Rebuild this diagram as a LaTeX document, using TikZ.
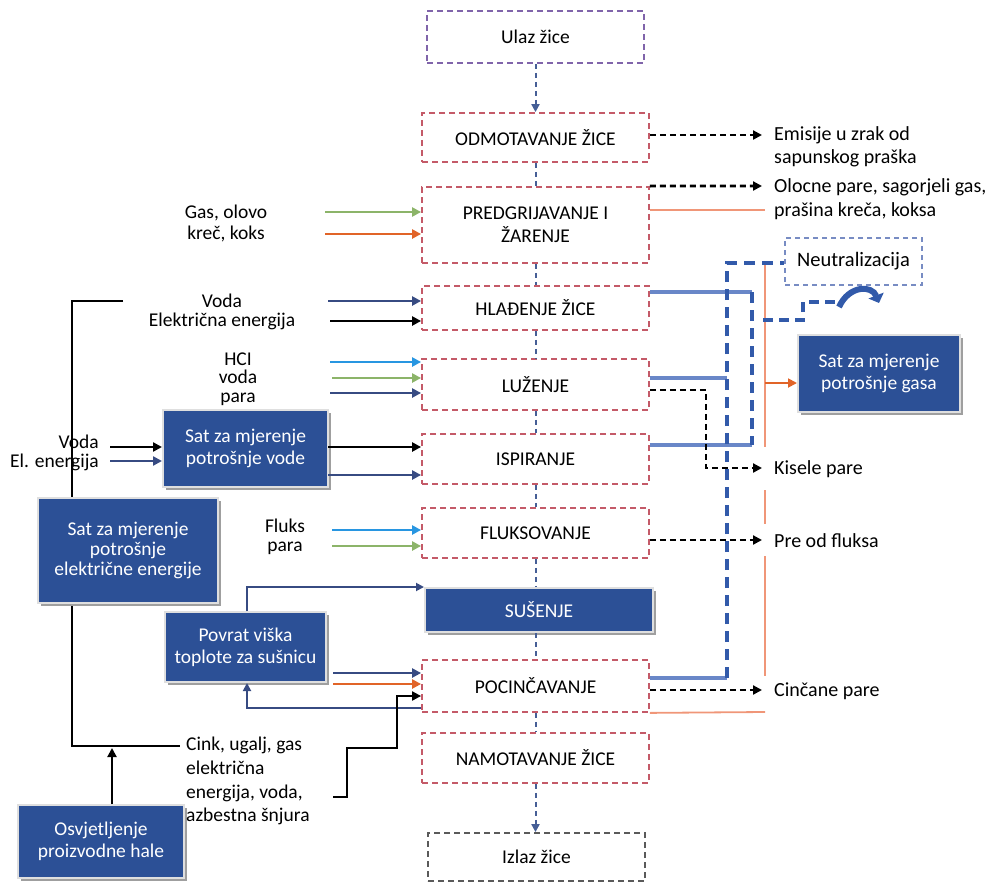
\documentclass[tikz,border=0pt]{standalone}
\usepackage{fontspec}
\setmainfont{Carlito}
\usetikzlibrary{arrows.meta,shadows,calc}
\definecolor{redd}{RGB}{196,90,104}
\definecolor{purp}{RGB}{128,100,170}
\definecolor{greyd}{RGB}{90,90,90}
\definecolor{connblue}{RGB}{70,95,150}
\definecolor{navy}{RGB}{55,75,130}
\definecolor{boxblue}{RGB}{44,80,150}
\definecolor{lblue}{RGB}{40,150,225}
\definecolor{greenc}{RGB}{140,180,105}
\definecolor{orangec}{RGB}{225,100,40}
\definecolor{salmon}{RGB}{240,150,120}
\definecolor{steelb}{RGB}{105,135,200}
\definecolor{dblue}{RGB}{50,90,170}
\definecolor{neutc}{RGB}{120,140,195}
\begin{document}
\begin{tikzpicture}[x=1pt,y=-1pt,
  font=\fontsize{19.5}{22}\selectfont,
  dbox/.style={draw=redd, dash pattern=on 6pt off 4pt, line width=1.8pt, minimum width=227pt, inner sep=0pt, align=center},
  fbox/.style={fill=boxblue, draw=gray!25, line width=2pt, text=white, align=center, inner sep=0pt,
     drop shadow={shadow xshift=2.5pt, shadow yshift=-3pt, fill=gray!75, opacity=1}},
  conn/.style={draw=connblue, dash pattern=on 5pt off 4pt, line width=2pt},
  connarr/.style={conn, -{Triangle[length=8pt,width=8pt]}},
  arr/.style={line width=2.6pt, -{Triangle[length=9pt,width=9pt]}},
  tarr/.style={line width=1.8pt, -{Triangle[length=8pt,width=8pt]}},
  darr/.style={draw=black, dash pattern=on 6pt off 4pt, line width=2.2pt, -{Triangle[length=9pt,width=9pt]}},
  sb/.style={draw=steelb, line width=4pt},
  db/.style={draw=dblue, line width=4pt, dash pattern=on 11pt off 7pt},
  sal/.style={draw=salmon, line width=1.8pt},
  lbl/.style={align=center, inner sep=0pt}
]
\useasboundingbox (0,0) rectangle (989,883);

% ---------- central column ----------
\node[dbox, draw=purp, minimum width=217pt, minimum height=52pt] (ulaz) at (535.5,37) {Ulaz žice};
\node[dbox, minimum height=49pt] (odm) at (535.5,137.5) {ODMOTAVANJE ŽICE};
\node[dbox, minimum height=76pt, font=\fontsize{19.5}{23}\selectfont] (pred) at (535.5,225) {PREDGRIJAVANJE I\\ŽARENJE};
\node[dbox, minimum height=44pt] (hlad) at (535.5,308) {HLAĐENJE ŽICE};
\node[dbox, minimum height=51pt] (luz) at (535.5,384.5) {LUŽENJE};
\node[dbox, minimum height=50pt] (isp) at (535.5,459) {ISPIRANJE};
\node[dbox, minimum height=50pt] (flu) at (535.5,533) {FLUKSOVANJE};
\node[fbox, minimum width=228pt, minimum height=44pt] (sus) at (539,610) {SUŠENJE};
\node[dbox, minimum height=52pt] (poc) at (535.5,686) {POCINČAVANJE};
\node[dbox, minimum height=50pt] (nam) at (535.5,758) {NAMOTAVANJE ŽICE};
\node[dbox, draw=greyd, minimum width=217pt, minimum height=48pt] (izl) at (536.5,857) {Izlaz žice};

\draw[connarr] (ulaz.south) -- (odm.north);
\draw[conn] (odm.south) -- (pred.north);
\draw[conn] (pred.south) -- (hlad.north);
\draw[conn] (hlad.south) -- (luz.north);
\draw[conn] (luz.south) -- (isp.north);
\draw[conn] (isp.south) -- (flu.north);
\draw[conn] (flu.south) -- (flu.south |- sus.north);
\draw[conn] (poc.north |- sus.south) -- (poc.north);
\draw[conn] (poc.south) -- (nam.north);
\draw[connarr] (nam.south) -- (nam.south |- izl.north);

% ---------- right side ----------
\node[draw=neutc, dash pattern=on 5pt off 4pt, line width=1.8pt, minimum width=137pt, minimum height=47pt, inner sep=0pt, font=\fontsize{20.5}{23}\selectfont] (neut) at (853.5,261.5) {Neutralizacija};
\node[fbox, minimum width=162pt, minimum height=77pt] (gas) at (879,373.5) {Sat za mjerenje\\potrošnje gasa};

\node[anchor=west, align=left, inner sep=0pt, font=\fontsize{20}{23}\selectfont] (emis) at (774,147) {Emisije u zrak od\\sapunskog praška};
\node[anchor=west, align=left, inner sep=0pt, font=\fontsize{20}{24}\selectfont] (oloc) at (774,199) {Olocne pare, sagorjeli gas,\\prašina kreča, koksa};
\node[anchor=west, inner sep=0pt, font=\fontsize{20}{23}\selectfont] (kis) at (774,469) {Kisele pare};
\node[anchor=west, inner sep=0pt, font=\fontsize{20}{23}\selectfont] (pref) at (774,541) {Pre od fluksa};
\node[anchor=west, inner sep=0pt, font=\fontsize{20}{23}\selectfont] (cinc) at (774,691) {Cinčane pare};

\coordinate (eA) at (762,135);
\coordinate (eB) at (762,186);
\coordinate (oA) at (765,210);
\coordinate (kA) at (706,390);
\coordinate (kB) at (706,468);
\coordinate (kC) at (762,468);
\coordinate (fA) at (762,540);
\coordinate (cA) at (762,690);

\draw[darr] (odm.east |- eA) -- (eA);
\draw[darr, line width=2.8pt] (pred.north east) -- (eB);
\draw[sal] (pred.east |- oA) -- (oA);

% salmon vertical and gas arrow
\coordinate (s1) at (765,262);
\coordinate (s2) at (765,447);
\coordinate (s3) at (765,490);
\coordinate (s4) at (765,524);
\coordinate (s5) at (765,556);
\coordinate (s6) at (765,676);
\coordinate (s7) at (765,712);
\coordinate (sg) at (765,383);
\draw[sal] (s1) -- (s2);
\draw[sal] (s3) -- (s4);
\draw[sal] (s5) -- (s6);
\draw[sal] (poc.south east) -- (s7);
\draw[draw=orangec, line width=1.8pt, -{Triangle[length=9pt,width=9pt]}] (sg) -- (gas.west |- sg);

% blue collection lines
\coordinate (b1) at (752,292);
\coordinate (b2) at (752,445);
\coordinate (b3) at (727,378);
\coordinate (b4) at (727,678);
\coordinate (b5) at (727,263);
\draw[sb] (hlad.east |- b1) -- (b1);
\draw[sb] (luz.east |- b3) -- (b3);
\draw[sb] (isp.east |- b2) -- (b2);
\draw[sb] (poc.east |- b4) -- (b4);
\draw[db] (b1) -- (b2);
\draw[db] (b4) -- (b5) -- (neut.west |- b5);

\coordinate (n1) at (763,320);
\coordinate (n2) at (803,320);
\coordinate (n3) at (803,302);
\coordinate (n4) at (836,302);
\draw[db, line width=3.5pt, dash pattern=on 10pt off 6pt] (n1) -- (n2) -- (n3) -- (n4);
\draw[draw=dblue, line width=6pt, -{Triangle[length=8pt,width=16pt]}] (839,307) .. controls (849,285) and (872,285) .. (879,303);

% emissions arrows
\draw[darr] (luz.east |- kA) -- (kA) -- (kB) -- (kC);
\draw[darr] (flu.east |- fA) -- (fA);
\draw[darr] (poc.east |- cA) -- (cA);

% ---------- left side ----------
\coordinate (L1) at (123,301);
\coordinate (L2) at (72,301);
\coordinate (L3) at (72,746);
\coordinate (L4) at (180,746);
\draw[black, line width=2pt] (L1) -- (L2) -- (L3) -- (L4);

\node[fbox, minimum width=165pt, minimum height=77pt] (wm) at (245.5,448.5) {Sat za mjerenje\\potrošnje vode};
\node[fbox, minimum width=180pt, minimum height=105pt, font=\fontsize{19.5}{20}\selectfont] (em) at (128,550.5) {Sat za mjerenje\\potrošnje\\električne energije};
\node[fbox, minimum width=161pt, minimum height=70pt] (pov) at (245.5,647) {Povrat viška\\toplote za sušnicu};
\node[fbox, minimum width=166pt, minimum height=73pt] (osv) at (101,841.5) {Osvjetljenje\\proizvodne hale};

\node[lbl, font=\fontsize{19.5}{21}\selectfont] (tgas) at (226,223) {Gas, olovo\\kreč, koks};
\node[lbl, font=\fontsize{19.5}{19.5}\selectfont] (tvoda) at (222,312) {Voda\\Električna energija};
\node[lbl, font=\fontsize{19.5}{18.5}\selectfont] (thcl) at (238,379) {HCI\\voda\\para};
\node[lbl, align=right, anchor=east, font=\fontsize{19.5}{19}\selectfont] (tvin) at (99,453) {Voda\\El. energija};
\node[lbl, font=\fontsize{19.5}{18.5}\selectfont] (tflu) at (285,537) {Fluks\\para};
\node[anchor=north west, align=left, inner sep=0pt, font=\fontsize{19.5}{23.7}\selectfont] (tcink) at (186,737) {Cink, ugalj, gas\\električna\\energija, voda,\\azbestna šnjura};

\coordinate (g1) at (325,212);
\coordinate (g2) at (325,234);
\draw[arr, draw=greenc] (g1) -- (pred.west |- g1);
\draw[arr, draw=orangec] (g2) -- (pred.west |- g2);

\coordinate (v1) at (328,301);
\coordinate (v2) at (330,321);
\draw[arr, draw=navy] (v1) -- (hlad.west |- v1);
\draw[arr, draw=black] (v2) -- (hlad.west |- v2);

\coordinate (h1) at (330,362);
\coordinate (h2) at (332,378);
\coordinate (h3) at (330,393);
\draw[arr, draw=lblue] (h1) -- (luz.west |- h1);
\draw[arr, draw=greenc] (h2) -- (luz.west |- h2);
\draw[arr, draw=navy] (h3) -- (luz.west |- h3);

\coordinate (w1) at (110,447);
\coordinate (w2) at (110,461);
\draw[arr, draw=black] (w1) -- (wm.west |- w1);
\draw[arr, draw=navy] (w2) -- (wm.west |- w2);
\coordinate (w3) at (328,447);
\coordinate (w4) at (328,475);
\draw[arr, draw=black] (w3) -- (isp.west |- w3);
\draw[arr, draw=navy] (w4) -- (isp.west |- w4);

\coordinate (f1) at (332,530);
\coordinate (f2) at (332,546);
\draw[arr, draw=lblue] (f1) -- (flu.west |- f1);
\draw[arr, draw=greenc] (f2) -- (flu.west |- f2);

\coordinate (p1) at (247,587);
\draw[tarr, draw=navy] (pov.north -| p1) -- (p1) -- (sus.west |- p1);
\coordinate (p2) at (333,673);
\coordinate (p3) at (333,684);
\draw[arr, draw=navy] (p2) -- (poc.west |- p2);
\draw[arr, draw=orangec] (p3) -- (poc.west |- p3);
\coordinate (p4) at (247,708);
\draw[tarr, draw=navy] (poc.west |- p4) -- (p4) -- (pov.south -| p4);

\coordinate (k1) at (333,797);
\coordinate (k2) at (347,797);
\coordinate (k3) at (347,748);
\coordinate (k4) at (397,748);
\coordinate (k5) at (397,696);
\draw[arr, draw=black, line width=2pt] (k1) -- (k2) -- (k3) -- (k4) -- (k5) -- (poc.west |- k5);

\coordinate (o1) at (112,748);
\draw[arr, draw=black, line width=2pt] (osv.north -| o1) -- (o1);
\end{tikzpicture}
\end{document}
